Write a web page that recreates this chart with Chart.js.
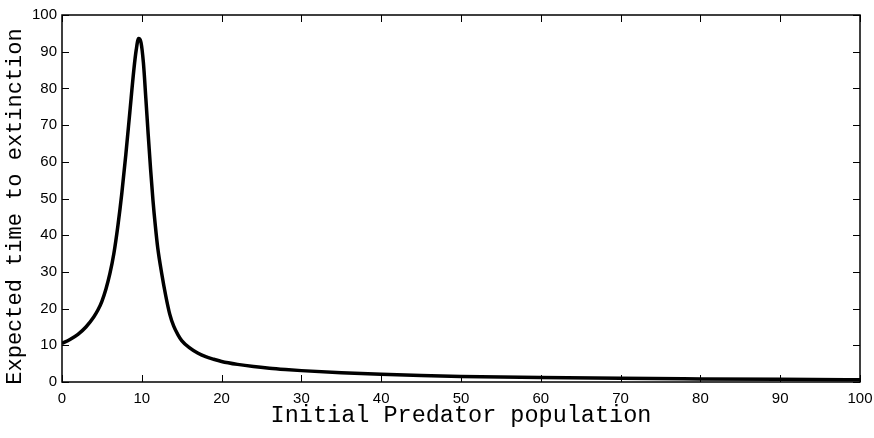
<!DOCTYPE html>
<html>
<head>
<meta charset="utf-8">
<script src="https://cdn.jsdelivr.net/npm/chart.js@4"></script>
<style>
  html, body { margin: 0; padding: 0; background: #fff; }
  #wrap { width: 874px; height: 438px; }
</style>
</head>
<body>
<div id="wrap"><canvas id="chart" width="874" height="438"></canvas></div>
<script>
// Initial predator population (x) and expected time to extinction (y)
const predatorPop = [0, 1, 2, 3, 4, 4.5, 5, 5.5, 6, 6.5, 7, 7.5, 8, 8.5, 9, 9.3, 9.6, 9.9,
  10.2, 10.5, 10.8, 11.1, 11.4, 11.7, 12, 12.5, 13, 13.5, 14, 14.5, 15, 16, 17, 18,
  19, 20, 22, 24, 26, 28, 30, 35, 40, 45, 50, 60, 70, 80, 90, 100];
const extinctionTime = [10.5, 11.6, 13.0, 15.0, 17.8, 19.6, 22.0, 25.3, 29.5, 35.0, 42.5, 51.5, 62, 73.5, 85, 90.5, 93.6, 92.5,
  87, 77.5, 67.5, 58, 49.5, 42.5, 36.5, 29.5, 23.5, 18.5, 15.2, 13.0, 11.3, 9.3, 7.9, 6.9,
  6.2, 5.6, 4.8, 4.2, 3.75, 3.4, 3.1, 2.55, 2.1, 1.75, 1.5, 1.2, 1.0, 0.85, 0.72, 0.62];
const xTicks = [0, 10, 20, 30, 40, 50, 60, 70, 80, 90, 100];
const yTicks = [0, 10, 20, 30, 40, 50, 60, 70, 80, 90, 100];
const yTitle = 'Expected time to extinction';

const points = predatorPop.map((x, i) => ({ x: x, y: extinctionTime[i] }));

const monoFont = '"Courier New", "Liberation Mono", monospace';
const sansFont = 'Helvetica, Arial, "Liberation Sans", sans-serif';

// matlab style box with inward ticks on all four sides, plus the y label
const boxTicks = {
  id: 'boxTicks',
  afterDraw(chart) {
    const { ctx, chartArea: a, scales } = chart;
    const len = 7;
    ctx.save();
    ctx.strokeStyle = '#000';
    ctx.lineWidth = 1;
    ctx.beginPath();
    xTicks.forEach(v => {
      const px = Math.round(scales.x.getPixelForValue(v)) + 0.5;
      ctx.moveTo(px, a.bottom); ctx.lineTo(px, a.bottom - len);
      ctx.moveTo(px, a.top); ctx.lineTo(px, a.top + len);
    });
    yTicks.forEach(v => {
      const py = Math.round(scales.y.getPixelForValue(v)) + 0.5;
      ctx.moveTo(a.left, py); ctx.lineTo(a.left + len, py);
      ctx.moveTo(a.right, py); ctx.lineTo(a.right - len, py);
    });
    ctx.stroke();
    ctx.lineWidth = 1.5;
    ctx.strokeRect(a.left, a.top, a.right - a.left, a.bottom - a.top);

    // y axis label, sits a little below the axis centre like the original
    ctx.translate(15, (a.top + a.bottom) / 2 + 8);
    ctx.rotate(-Math.PI / 2);
    ctx.fillStyle = '#000';
    ctx.font = '22px ' + monoFont;
    ctx.textAlign = 'center';
    ctx.textBaseline = 'middle';
    ctx.fillText(yTitle, 0, 0);
    ctx.restore();
  }
};

new Chart(document.getElementById('chart'), {
  type: 'line',
  data: {
    datasets: [{
      data: points,
      borderColor: '#000',
      borderWidth: 3.5,
      pointRadius: 0,
      fill: false,
      cubicInterpolationMode: 'monotone'
    }]
  },
  options: {
    responsive: false,
    animation: false,
    layout: { padding: { top: 15, right: 14, left: 0, bottom: 8 } },
    plugins: { legend: { display: false }, tooltip: { enabled: false } },
    scales: {
      x: {
        type: 'linear',
        min: 0, max: 100,
        afterBuildTicks: s => { s.ticks = xTicks.map(v => ({ value: v })); },
        afterFit: s => { s.height = 48; s.paddingLeft = 0; s.paddingRight = 0; },
        grid: { display: false, drawTicks: false },
        border: { display: false },
        ticks: { color: '#000', padding: 8, maxRotation: 0,
          font: { family: sansFont, size: 15 } },
        title: { display: true, text: 'Initial Predator population', color: '#000',
          padding: { top: 0, bottom: 0 },
          font: { family: monoFont, size: 23.5 } }
      },
      y: {
        min: 0, max: 100,
        afterBuildTicks: s => { s.ticks = yTicks.map(v => ({ value: v })); },
        afterFit: s => { s.width = 62; },
        grid: { display: false, drawTicks: false },
        border: { display: false },
        ticks: { color: '#000', padding: 5,
          font: { family: sansFont, size: 15 } }
      }
    }
  },
  plugins: [boxTicks]
});
</script>
</body>
</html>
